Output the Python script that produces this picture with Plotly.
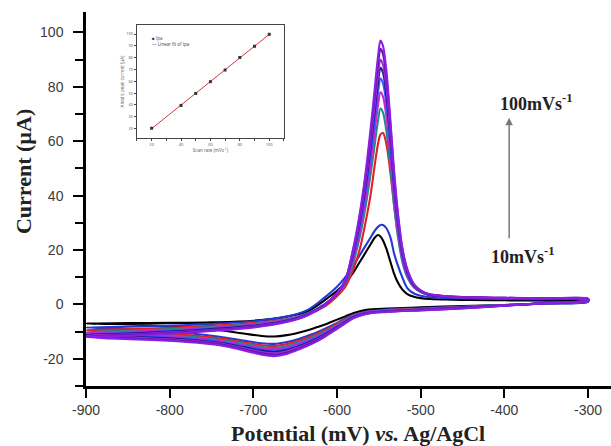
import numpy as np
import plotly.graph_objects as go

# ---------------- data ----------------
scan_rates = [10, 20, 30, 40, 50, 60, 70, 80, 90, 100]
colors = ["#000000", "#2338d8", "#e41e26", "#1f8a8a", "#d21fcf", "#3a55ff",
          "#1a1a8c", "#9a30d0", "#6d12b0", "#8a1ee6"]

E_fwd = [-900, -850, -800, -750, -700, -660, -635, -615, -600, -590, -581, -573,
         -566, -560, -555, -551, -548, -545, -541, -536, -532, -528, -522, -516,
         -508, -500, -490, -470, -440, -400, -350, -300]
E_rev = [-300, -350, -400, -450, -500, -540, -565, -580, -590, -600, -615, -630,
         -645, -660, -675, -690, -710, -740, -780, -830, -870, -900]

i_fwd_10 = [-7, -6.9, -6.8, -6.6, -6, -4.5, -2.5, 1.5, 5, 8, 11.5, 15.5, 19, 22, 24.5, 25.5,
            25, 23.5, 20.5, 15.5, 11.5, 8.5, 5.5, 3.8, 2.8, 2.3, 2.0, 1.8, 1.6, 1.5, 1.4, 1.3]
i_fwd_20 = [-8.5, -8.2, -7.8, -7.2, -6.2, -4.5, -2, 2.5, 6.5, 10, 14, 18, 21.5, 24.5, 27, 28.5,
            29.2, 29.2, 28, 24.5, 19, 15, 10, 6, 4, 3.2, 2.7, 2.4, 2.2, 2.0, 1.9, 1.8]
i_fwd_30 = [-9.5, -9.1, -8.6, -7.9, -6.9, -5.4, -3.5, -0.8, 3, 6.5, 12.5, 20, 30, 40, 51, 59,
            62.5, 63, 59, 48, 37, 27.5, 17, 10.5, 6.5, 4.6, 3.5, 2.8, 2.5, 2.3, 2.1, 2.0]
i_fwd_40 = [-10.2, -9.7, -9.1, -8.3, -7.2, -5.5, -3.3, 0, 3.7, 7.8, 14.8, 24.5, 35.6, 47.5, 58.6, 67.5,
            72, 70.5, 63.8, 49.7, 37.1, 26.7, 15.8, 10, 6.2, 4.5, 3.4, 2.8, 2.5, 2.3, 2.1, 2.0]
i_fwd_50 = [-10.6, -10.1, -9.5, -8.6, -7.4, -5.7, -3.4, 0, 3.8, 8.1, 16.1, 26.5, 38.6, 51.5, 63.5, 73.2,
            78, 76.4, 69.1, 53.9, 40.2, 29, 17, 10.7, 6.5, 4.7, 3.5, 2.8, 2.5, 2.3, 2.1, 2.0]
i_fwd_60 = [-11, -10.5, -9.8, -8.9, -7.7, -5.9, -3.5, -0.1, 3.9, 8.4, 17.1, 28.2, 41.1, 54.8, 67.6, 77.9,
            83, 81.3, 73.6, 57.3, 42.8, 30.8, 18, 11.3, 6.7, 4.8, 3.6, 2.9, 2.5, 2.3, 2.1, 2.0]
i_fwd_70 = [-11.2, -10.7, -10, -9.1, -7.9, -6, -3.6, -0.2, 4, 8.6, 18, 29.6, 43, 57.4, 70.9, 81.6,
            87, 85.2, 77.1, 60.1, 44.9, 32.3, 18.9, 11.8, 6.9, 4.9, 3.6, 2.9, 2.5, 2.3, 2.1, 2.0]
i_fwd_80 = [-11.5, -11, -10.3, -9.4, -8.1, -6.2, -3.8, -0.3, 4, 8.8, 18.6, 30.6, 44.5, 59.4, 73.3, 84.4,
            90, 88, 80, 62.2, 46.4, 33.4, 19.5, 12.2, 7.1, 5, 3.7, 3, 2.6, 2.4, 2.2, 2.0]
i_fwd_90 = [-11.8, -11.2, -10.5, -9.6, -8.3, -6.3, -3.9, -0.4, 4, 9, 19.5, 32, 46.5, 62, 76.5, 88,
            94, 92, 83.5, 65, 48.5, 35, 20.5, 12.7, 7.3, 5.1, 3.7, 3.0, 2.6, 2.4, 2.2, 2.1]
i_fwd_100 = [-12, -11.5, -10.8, -9.8, -8.5, -6.5, -4, -0.5, 4, 9, 20, 33, 48, 64, 79, 91,
             97, 95, 86, 67, 50, 36, 21, 13, 7.5, 5.2, 3.8, 3.0, 2.6, 2.4, 2.2, 2.1]

i_rev_10 = [1, 0.3, -0.2, -0.6, -1.1, -1.5, -2, -3.2, -4.4, -5.6, -7.5, -9, -10.3, -11.3, -11.8,
            -11.6, -10.8, -9.5, -8.3, -7.6, -7.2, -7]
i_rev_20 = [1, 0.3, -0.2, -0.8, -1.4, -1.9, -2.6, -3.8, -5.2, -6.8, -9, -11, -12.6, -13.8, -14.5,
            -14.3, -13.4, -11.9, -10.5, -9.4, -8.8, -8.5]
i_rev_30 = [1.2, 0.4, -0.3, -1, -1.6, -2.1, -2.8, -4, -5.5, -7.1, -9.6, -11.6, -13.3, -14.6, -15.3,
            -15, -14, -12.5, -11.3, -10.4, -9.9, -9.5]
i_rev_40 = [1.2, 0.4, -0.3, -1, -1.7, -2.2, -2.9, -4.2, -5.8, -7.5, -10.1, -12.2, -13.9, -15.3, -16,
            -15.6, -14.5, -13, -11.8, -11, -10.5, -10.2]
i_rev_50 = [1.3, 0.4, -0.3, -1.1, -1.8, -2.3, -3, -4.4, -6, -7.8, -10.5, -12.6, -14.4, -15.8, -16.5,
            -16.1, -15, -13.4, -12.2, -11.4, -10.9, -10.6]
i_rev_60 = [1.3, 0.4, -0.4, -1.2, -1.9, -2.4, -3.1, -4.5, -6.2, -8.1, -10.8, -13, -14.9, -16.3, -17,
            -16.6, -15.4, -13.8, -12.6, -11.8, -11.3, -11]
i_rev_70 = [1.4, 0.5, -0.4, -1.2, -1.9, -2.5, -3.2, -4.6, -6.4, -8.3, -11.1, -13.4, -15.3, -16.8, -17.5,
            -17, -15.8, -14.1, -12.9, -12.1, -11.6, -11.2]
i_rev_80 = [1.4, 0.5, -0.4, -1.3, -2, -2.6, -3.3, -4.8, -6.6, -8.6, -11.4, -13.8, -15.7, -17.2, -18,
            -17.5, -16.2, -14.4, -13.2, -12.4, -11.9, -11.5]
i_rev_90 = [1.5, 0.5, -0.5, -1.4, -2.1, -2.7, -3.4, -4.9, -6.8, -8.8, -11.7, -14.1, -16.1, -17.7, -18.5,
            -18, -16.6, -14.7, -13.5, -12.7, -12.2, -11.8]
i_rev_100 = [1.5, 0.5, -0.5, -1.5, -2.2, -2.8, -3.5, -5, -7, -9, -12, -14.5, -16.5, -18.2, -19,
             -18.5, -17, -15, -13.8, -13, -12.5, -12]

x_tickvals = [-900, -800, -700, -600, -500, -400, -300]
x_ticktext = ["-900", "-800", "-700", "-600", "-500", "-400", "-300"]
y_tickvals = [-20, 0, 20, 40, 60, 80, 100]
y_ticktext = ["-20", "0", "20", "40", "60", "80", "100"]

# inset data
inset_rate = [20, 40, 50, 60, 70, 80, 90, 100]
inset_ip = [20.3, 39.6, 49.8, 59.7, 69.6, 80.2, 89.7, 99.8]

fwd_list = [i_fwd_10, i_fwd_20, i_fwd_30, i_fwd_40, i_fwd_50,
            i_fwd_60, i_fwd_70, i_fwd_80, i_fwd_90, i_fwd_100]
rev_list = [i_rev_10, i_rev_20, i_rev_30, i_rev_40, i_rev_50,
            i_rev_60, i_rev_70, i_rev_80, i_rev_90, i_rev_100]

# ---------------- figure ----------------
fig = go.Figure()
for rate, col, f, r in zip(scan_rates, colors, fwd_list, rev_list):
    fig.add_trace(go.Scatter(
        x=E_fwd + E_rev, y=f + r, mode="lines",
        line=dict(color=col, width=2.1, shape="spline", smoothing=0.9),
        name=f"{rate} mV/s", showlegend=False, hoverinfo="skip"))

# inset
slope, intercept = np.polyfit(inset_rate, inset_ip, 1)
fit_x = [inset_rate[0], inset_rate[-1]]
fit_y = [slope * v + intercept for v in fit_x]
fig.add_trace(go.Scatter(x=fit_x, y=fit_y, mode="lines", xaxis="x2", yaxis="y2",
                         line=dict(color="#e03040", width=1), showlegend=False))
fig.add_trace(go.Scatter(x=inset_rate, y=inset_ip, mode="markers", xaxis="x2", yaxis="y2",
                         marker=dict(symbol="square", size=3, color="#333"), showlegend=False))

tick_font = dict(family="Liberation Sans, Arial", size=14, color="#3a3a3a")
serif = "Liberation Serif, Times New Roman, serif"

fig.update_layout(
    width=611, height=446,
    margin=dict(l=86, r=0, t=12, b=60),
    paper_bgcolor="white", plot_bgcolor="white",
    xaxis=dict(range=[-900, -272.5], showline=True, linecolor="black", linewidth=2.5,
               ticks="outside", ticklen=9, tickwidth=2, tickcolor="black",
               tickmode="array", tickvals=x_tickvals, ticktext=x_ticktext,
               tickfont=tick_font, showgrid=False, zeroline=False),
    yaxis=dict(range=[-30, 107.5], showline=True, linecolor="black", linewidth=2.5,
               ticks="outside", ticklen=10, tickwidth=2, tickcolor="black",
               tickmode="array", tickvals=y_tickvals, ticktext=y_ticktext,
               tickfont=tick_font, showgrid=False, zeroline=False, ticklabelstandoff=7,
               minor=dict(tickmode="linear", tick0=0, dtick=10, ticks="outside",
                          ticklen=8, tickwidth=2, tickcolor="black", showgrid=False)),
    xaxis2=dict(domain=[0.097, 0.377], anchor="y2", range=[10, 110],
                showline=True, mirror=True, linecolor="#444", linewidth=1,
                ticks="outside", ticklen=2, tickwidth=1, tickcolor="#444",
                tickmode="array", tickvals=[20, 40, 60, 80, 100],
                tickfont=dict(size=4, color="#555"), showgrid=False, zeroline=False,
                minor=dict(tickmode="linear", tick0=0, dtick=10, ticks="outside", ticklen=2),
                title=dict(text="Scan rate (mVs<sup>-1</sup>)", font=dict(size=4.5, color="#555"),
                           standoff=1)),
    yaxis2=dict(domain=[0.663, 0.965], anchor="x2", range=[12, 107.6],
                showline=True, mirror=True, linecolor="#444", linewidth=1,
                ticks="outside", ticklen=2, tickwidth=1, tickcolor="#444",
                tickmode="linear", tick0=0, dtick=10,
                tickfont=dict(size=4, color="#555"), showgrid=False, zeroline=False,
                title=dict(text="Anodic peak current (µA)", font=dict(size=4.5, color="#555"),
                           standoff=1)),
)

anns = [
    dict(text="<b>Current (µA)</b>", x=-0.12, y=0.572, xref="paper", yref="paper",
         xanchor="center", yanchor="middle",
         textangle=-90, showarrow=False, font=dict(family=serif, size=22, color="#222")),
    dict(text="<b>Potential (mV) <i>vs.</i> Ag/AgCl</b>", x=0.518, y=-0.1257,
         xref="paper", yref="paper", xanchor="center", yanchor="middle", showarrow=False,
         font=dict(family=serif, size=22, color="#222")),
    dict(text="<b>100mVs<sup>-1</sup></b>", x=0.859, y=0.757, xref="paper", yref="paper",
         xanchor="center", yanchor="middle",
         showarrow=False, font=dict(family=serif, size=18, color="#222")),
    dict(text="<b>10mVs<sup>-1</sup></b>", x=0.832, y=0.350, xref="paper", yref="paper",
         xanchor="center", yanchor="middle",
         showarrow=False, font=dict(family=serif, size=18, color="#222")),
    dict(text="", x=0.806, y=0.717, xref="paper", yref="paper", showarrow=True,
         ax=0, ay=122, arrowhead=2, arrowsize=1, arrowwidth=1.5, arrowcolor="#777",
         standoff=0),
    dict(text="■ Ipa", x=0.122, y=0.944, xref="paper", yref="paper", xanchor="left",
         showarrow=False, font=dict(size=4.5, color="#444")),
    dict(text="— Linear fit of Ipa", x=0.122, y=0.928, xref="paper", yref="paper",
         xanchor="left", showarrow=False, font=dict(size=4.5, color="#444")),
]
fig.update_layout(annotations=anns)

fig.write_html("out.html")
